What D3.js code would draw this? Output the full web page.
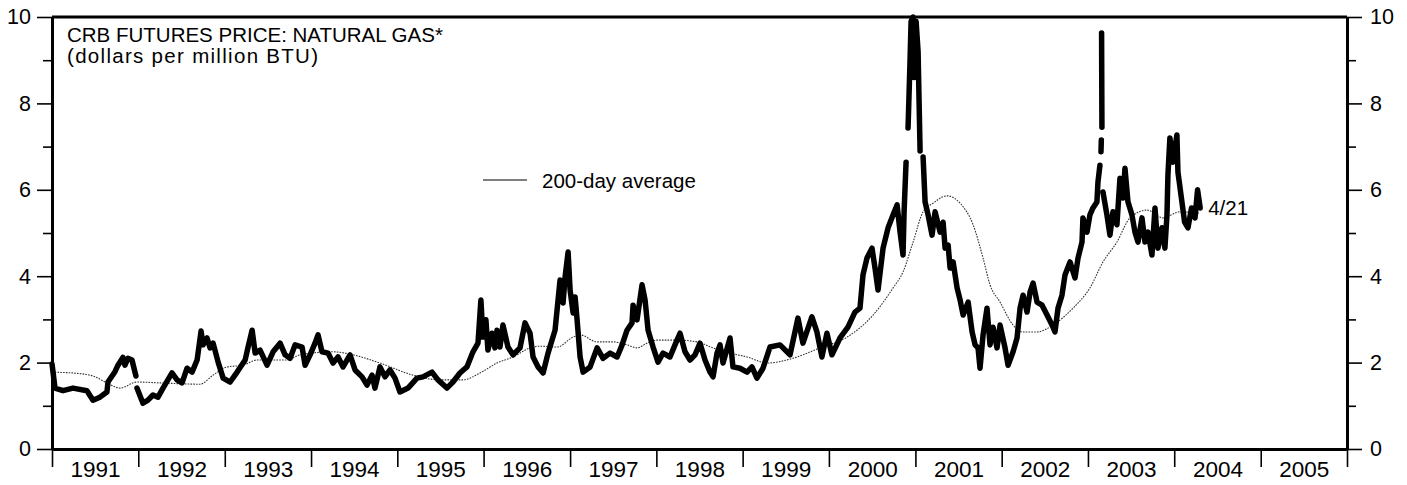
<!DOCTYPE html>
<html>
<head>
<meta charset="utf-8">
<script src="https://cdn.jsdelivr.net/npm/d3@7"></script>
<style>
  html, body { margin: 0; padding: 0; background: #fff; }
  svg { display: block; }
  text { font-family: "Liberation Sans", Arial, sans-serif; fill: #000; }
</style>
</head>
<body>
<svg id="chart" width="1407" height="485"></svg>
<script>
// CRB natural gas futures, dollars per million BTU (decimal year, price); null = break in the series
const priceYears = [
  1991.000,1991.035,1991.127,1991.243,1991.405,1991.475,1991.556,1991.637,1991.649,1991.730,
  1991.765,1991.822,1991.846,1991.880,1991.927,1991.973,1991.979,
  1991.985,1992.054,1992.112,1992.170,1992.228,1992.286,1992.390,1992.448,1992.506,1992.564,
  1992.622,1992.680,1992.726,1992.749,1992.795,1992.830,1992.865,1992.923,1992.981,1993.062,
  1993.143,1993.236,1993.270,1993.317,1993.352,1993.409,1993.490,1993.560,1993.641,1993.699,
  1993.757,1993.815,1993.896,1993.931,1993.989,1994.046,1994.081,1994.127,1994.197,1994.255,
  1994.313,1994.371,1994.452,1994.510,1994.591,1994.649,1994.707,1994.741,1994.799,1994.857,
  1994.915,1994.973,1995.031,1995.124,1995.228,1995.297,1995.402,1995.471,1995.575,1995.645,
  1995.726,1995.807,1995.877,1995.935,1995.969,1995.992,1996.027,1996.050,1996.097,1996.131,
  1996.155,1996.189,1996.224,1996.282,1996.340,1996.421,1996.479,1996.537,1996.572,1996.630,
  1996.688,1996.745,1996.826,1996.884,1996.919,1996.942,1996.977,1997.000,1997.035,1997.058,
  1997.081,1997.116,1997.151,1997.232,1997.313,1997.382,1997.463,1997.545,1997.603,1997.660,
  1997.718,1997.730,1997.776,1997.834,1997.869,1997.904,1997.962,1998.019,1998.077,1998.158,
  1998.216,1998.274,1998.332,1998.390,1998.448,1998.506,1998.564,1998.622,1998.657,1998.703,
  1998.738,1998.773,1998.854,1998.888,1998.969,1999.051,1999.108,1999.166,1999.236,1999.317,
  1999.433,1999.549,1999.641,1999.699,1999.803,1999.861,1999.919,1999.977,2000.035,2000.128,
  2000.220,2000.301,2000.359,2000.394,2000.440,2000.498,2000.533,2000.568,2000.626,2000.684,
  2000.742,2000.788,2000.823,2000.857,2000.869,2000.880,2000.892,2000.903,
  2000.915,2000.938,2000.950,2000.973,2000.985,2001.008,2001.031,2001.054,2001.071,
  2001.089,2001.112,2001.147,2001.193,2001.228,2001.286,2001.321,2001.344,2001.379,2001.402,
  2001.437,2001.483,2001.518,2001.553,2001.611,2001.657,2001.692,2001.726,2001.749,2001.784,
  2001.830,2001.865,2001.900,2001.946,2001.981,2002.039,2002.074,2002.132,2002.178,2002.213,
  2002.248,2002.294,2002.329,2002.364,2002.410,2002.468,2002.526,2002.584,2002.618,2002.653,
  2002.699,2002.734,2002.792,2002.850,2002.885,2002.931,2002.942,2002.989,2003.023,2003.058,
  2003.104,2003.116,2003.139,2003.145,2003.151,2003.155,2003.157,2003.158,2003.162,2003.168,
  2003.174,2003.220,2003.255,2003.290,2003.336,2003.371,2003.406,2003.429,2003.464,2003.510,
  2003.545,2003.580,2003.626,2003.661,2003.696,2003.742,2003.777,2003.811,2003.858,2003.892,
  2003.916,2003.927,2003.950,2003.985,2004.031,2004.043,2004.089,2004.120,2004.159,2004.200,
  2004.240,2004.270,2004.300
];
const prices = [
  1.97,1.41,1.35,1.41,1.35,1.13,1.20,1.32,1.55,1.79,
  1.94,2.12,1.94,2.10,2.06,1.69,null,
  1.41,1.06,1.13,1.25,1.20,1.41,1.76,1.60,1.53,1.87,
  1.78,2.06,2.73,2.41,2.57,2.34,2.45,2.01,1.64,1.55,
  1.78,2.06,2.36,2.75,2.22,2.29,1.94,2.25,2.45,2.18,
  2.10,2.41,2.36,1.94,2.18,2.45,2.64,2.25,2.22,1.99,
  2.13,1.90,2.18,1.83,1.67,1.48,1.71,1.41,1.90,1.67,
  1.83,1.64,1.32,1.41,1.64,1.67,1.78,1.60,1.41,1.55,
  1.76,1.90,2.25,2.45,3.45,2.59,2.99,2.29,2.68,2.34,
  2.75,2.36,2.87,2.36,2.18,2.34,2.92,2.68,2.13,1.90,
  1.76,2.22,2.75,3.91,3.38,3.98,4.56,3.68,3.15,3.52,
  2.99,2.13,1.78,1.90,2.34,2.10,2.22,2.13,2.41,2.75,
  2.92,3.33,2.99,3.80,3.45,2.75,2.36,2.01,2.22,2.13,
  2.41,2.68,2.25,2.06,2.18,2.45,2.06,1.78,1.67,2.22,
  2.41,1.99,2.57,1.90,1.87,1.78,1.90,1.64,1.87,2.36,
  2.41,2.18,3.03,2.45,3.06,2.71,2.13,2.68,2.18,2.57,
  2.82,3.17,3.26,4.03,4.42,4.65,4.19,3.68,4.65,5.12,
  5.42,5.65,5.02,4.49,5.49,6.04,6.64,null,
  7.43,9.00,9.90,10.00,8.60,9.90,9.20,6.90,null,
  6.76,5.72,5.42,4.95,5.49,5.02,5.25,4.65,4.72,4.19,
  4.33,3.73,3.45,3.10,3.40,2.71,2.41,2.34,1.87,2.64,
  3.26,2.41,2.82,2.34,2.87,2.34,1.94,2.25,2.57,3.26,
  3.56,3.17,3.63,3.84,3.40,3.33,3.10,2.87,2.71,3.26,
  3.56,4.03,4.33,3.96,4.42,4.79,5.35,5.02,5.42,5.58,
  5.72,6.18,6.57,null,6.88,7.15,null,9.63,7.45,null,
  5.95,5.42,4.95,5.49,5.19,6.27,5.81,6.50,5.72,5.42,
  5.02,4.79,5.35,4.79,5.02,4.49,5.58,4.65,5.12,4.65,
  5.42,6.34,7.20,6.64,7.27,6.41,5.72,5.25,5.12,5.58,
  5.35,6.00,5.58
];

// 200-day moving average of the same price
const avgYears = [
  1991.000,1991.035,1991.243,1991.475,1991.637,1991.788,1991.985,1992.251,1992.714,1992.865,
  1993.027,1993.212,1993.375,1993.722,1993.873,1994.255,1994.487,1994.799,1995.182,1995.494,
  1995.761,1995.958,1996.155,1996.340,1996.537,1996.653,1996.850,1997.035,1997.116,1997.313,
  1997.498,1997.660,1997.776,1997.892,1998.008,1998.240,1998.471,1998.657,1998.854,1999.051,
  1999.282,1999.583,1999.896,2000.209,2000.510,2000.742,2000.857,2000.973,2001.089,2001.205,
  2001.367,2001.518,2001.669,2001.784,2001.865,2001.981,2002.132,2002.236,2002.410,2002.595,
  2002.827,2003.023,2003.174,2003.336,2003.487,2003.684,2003.869,2004.066,2004.300
];
const avgValues = [
  1.80,1.78,1.76,1.69,1.53,1.41,1.55,1.53,1.50,1.71,
  1.90,1.94,2.06,2.06,2.18,2.25,2.18,1.99,1.71,1.60,
  1.60,1.76,1.99,2.13,2.34,2.38,2.36,2.59,2.64,2.48,
  2.48,2.41,2.34,2.45,2.52,2.52,2.48,2.34,2.22,2.13,
  1.99,2.10,2.34,2.59,3.10,3.73,4.10,4.79,5.49,5.69,
  5.86,5.69,5.19,4.42,3.80,3.40,2.87,2.71,2.71,2.87,
  3.26,3.73,4.33,4.79,5.35,5.53,5.35,5.49,5.46
];

const yearTicks = d3.range(1991, 2007);
const yMajor = [0, 2, 4, 6, 8, 10];
const yMinor = [1, 3, 5, 7, 9];

const titleLines = ["CRB FUTURES PRICE: NATURAL GAS*", "(dollars per million BTU)"];
const legendLabel = "200-day average";
const lastLabel = "4/21";

function decToDate(d) {
  const yr = Math.floor(d);
  const a = new Date(yr, 0, 1).getTime(), b = new Date(yr + 1, 0, 1).getTime();
  return new Date(a + (d - yr) * (b - a));
}

const svg = d3.select("#chart");
const L = 52, R = 1347, T = 17, B = 449;

const x = d3.scaleTime()
  .domain([new Date(1991, 0, 1), new Date(2006, 0, 1)])
  .range([L, R]);
const y = d3.scaleLinear().domain([0, 10]).range([B, T]);

const priceData = priceYears.map((t, i) => ({ d: decToDate(t), v: prices[i] }));
const avgData = avgYears.map((t, i) => ({ d: decToDate(t), v: avgValues[i] }));

// moving average: thin dotted line
svg.append("path")
  .datum(avgData)
  .attr("fill", "none")
  .attr("stroke", "#333")
  .attr("stroke-width", 1.1)
  .attr("stroke-dasharray", "1.6,1.2")
  .attr("d", d3.line().x(d => x(d.d)).y(d => y(d.v)).curve(d3.curveMonotoneX));

// price: heavy line with breaks
svg.append("path")
  .datum(priceData)
  .attr("fill", "none")
  .attr("stroke", "#000")
  .attr("stroke-width", 5.5)
  .attr("stroke-linejoin", "round")
  .attr("stroke-linecap", "round")
  .attr("d", d3.line().defined(d => d.v != null).x(d => x(d.d)).y(d => y(d.v)));

// frame: top rule
svg.append("line")
  .attr("x1", L).attr("x2", R).attr("y1", T).attr("y2", T)
  .attr("stroke", "#000").attr("stroke-width", 3);

function styleAxis(g, width) {
  g.select(".domain").attr("stroke", "#000").attr("stroke-width", width);
  g.selectAll(".tick line").attr("stroke", "#000").attr("stroke-width", 1.6);
  g.selectAll(".tick text").attr("font-size", 21.5).attr("fill", "#000")
    .attr("font-family", "Liberation Sans, Arial, sans-serif");
}

// left axis
const leftMajor = svg.append("g").attr("transform", `translate(${L},0)`)
  .call(d3.axisLeft(y).tickValues(yMajor).tickSize(15).tickSizeOuter(0).tickPadding(6).tickFormat(d3.format("d")));
styleAxis(leftMajor, 3);
const leftMinor = svg.append("g").attr("transform", `translate(${L},0)`)
  .call(d3.axisLeft(y).tickValues(yMinor).tickSize(9).tickSizeOuter(0).tickFormat(""));
styleAxis(leftMinor, 3);

// right axis
const rightMajor = svg.append("g").attr("transform", `translate(${R},0)`)
  .call(d3.axisRight(y).tickValues(yMajor).tickSize(15).tickSizeOuter(0).tickPadding(8).tickFormat(d3.format("d")));
styleAxis(rightMajor, 3);
const rightMinor = svg.append("g").attr("transform", `translate(${R},0)`)
  .call(d3.axisRight(y).tickValues(yMinor).tickSize(9).tickSizeOuter(0).tickFormat(""));
styleAxis(rightMinor, 3);

// bottom axis: year boundaries, labels centred in each year
const bottom = svg.append("g").attr("transform", `translate(0,${B})`)
  .call(d3.axisBottom(x).tickValues(yearTicks.map(v => new Date(v, 0, 1))).tickSize(18).tickSizeOuter(0).tickFormat(""));
styleAxis(bottom, 3);
const yrLabels = svg.append("g").attr("transform", `translate(0,${B})`)
  .call(d3.axisBottom(x).tickValues(yearTicks.slice(0, -1).map(v => new Date(v, 6, 2))).tickSize(0).tickPadding(12).tickFormat(d3.timeFormat("%Y")));
yrLabels.select(".domain").remove();
yrLabels.selectAll(".tick text").attr("font-size", 22.5).attr("fill", "#000")
  .attr("font-family", "Liberation Sans Narrow, Liberation Sans, sans-serif");

// title, two lines
svg.append("text").attr("x", 67).attr("y", 42).attr("font-size", 20.5).text(titleLines[0]);
svg.append("text").attr("x", 67).attr("y", 63).attr("font-size", 20.5)
  .attr("letter-spacing", 1.3).text(titleLines[1]);

// legend
svg.append("line").attr("x1", 483).attr("x2", 527).attr("y1", 180).attr("y2", 180)
  .attr("stroke", "#000").attr("stroke-width", 1.2);
svg.append("text").attr("x", 542).attr("y", 187.5).attr("font-size", 20.5).text(legendLabel);

// end-of-data date
const last = priceData[priceData.length - 1];
svg.append("text").attr("x", x(last.d) + 8).attr("y", y(last.v) + 7.5)
  .attr("font-size", 20.5).text(lastLabel);
</script>
</body>
</html>
